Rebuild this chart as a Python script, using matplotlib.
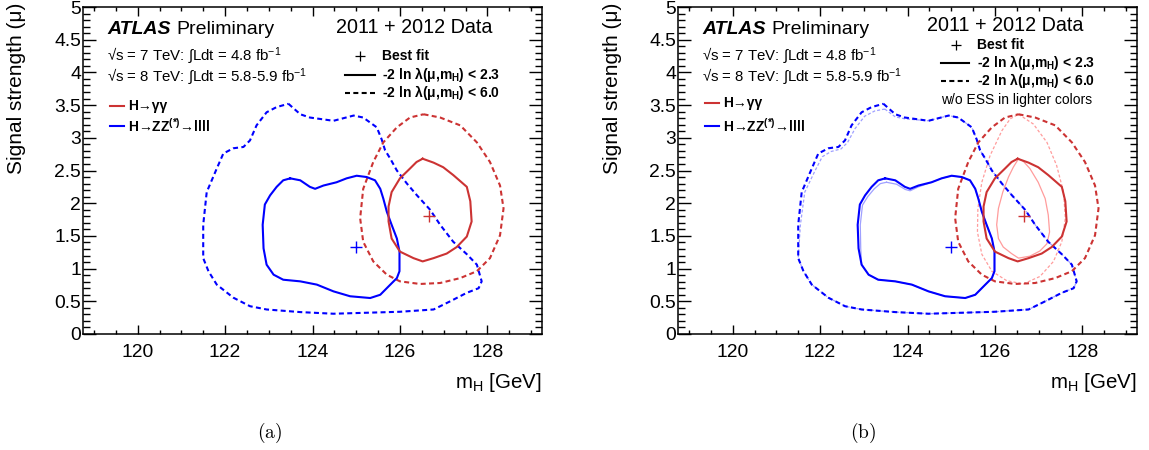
import matplotlib
matplotlib.use('Agg')
import matplotlib.pyplot as plt
from matplotlib.lines import Line2D
from matplotlib.ticker import MultipleLocator, FuncFormatter

plt.rcParams['font.family'] = ['Liberation Sans', 'DejaVu Sans']
plt.rcParams['mathtext.fontset'] = 'custom'
plt.rcParams['mathtext.rm'] = 'Liberation Sans'
plt.rcParams['mathtext.it'] = 'Liberation Sans:italic'
plt.rcParams['mathtext.bf'] = 'Liberation Sans:bold'

# ---------------- data ----------------
zz95_m = [123.45, 123.72, 123.94, 124.48, 124.94, 125.16, 125.47, 125.58, 125.66, 125.78, 125.93, 126.16,
          126.39, 126.69, 126.92, 127.22, 127.53, 127.76, 127.87, 127.80, 127.53, 127.15, 126.77, 126.00,
          125.24, 124.48, 123.72, 122.95, 122.57, 122.19, 121.81, 121.62, 121.50, 121.50, 121.58, 121.81,
          121.96, 122.19, 122.42, 122.57, 122.72, 122.95, 123.18]
zz95_mu = [3.52, 3.36, 3.31, 3.26, 3.34, 3.31, 3.16, 2.98, 2.81, 2.68, 2.50, 2.30,
           2.12, 1.90, 1.67, 1.41, 1.22, 1.06, 0.805, 0.70, 0.63, 0.50, 0.375, 0.34,
           0.325, 0.31, 0.335, 0.375, 0.425, 0.555, 0.755, 0.96, 1.16, 1.67, 2.17, 2.53,
           2.76, 2.84, 2.86, 2.96, 3.19, 3.39, 3.47]

zz68_m = [123.49, 123.72, 123.94, 124.06, 124.25, 124.55, 124.78, 125.01, 125.24, 125.43, 125.55, 125.62,
          125.70, 125.81, 125.93, 125.99, 125.99, 125.93, 125.78, 125.55, 125.32, 124.86, 124.48, 124.10,
          123.72, 123.33, 123.11, 122.95, 122.88, 122.86, 122.91, 123.03, 123.18, 123.33]
zz68_mu = [2.38, 2.35, 2.25, 2.22, 2.27, 2.32, 2.38, 2.42, 2.40, 2.35, 2.22, 2.07,
           1.87, 1.67, 1.46, 1.26, 0.96, 0.855, 0.755, 0.60, 0.55, 0.577, 0.652, 0.755,
           0.805, 0.83, 0.907, 1.06, 1.31, 1.67, 1.98, 2.12, 2.25, 2.35]

gg68_m = [126.52, 126.77, 126.99, 127.22, 127.53, 127.61, 127.64, 127.53, 127.30, 127.07, 126.77,
          126.52, 126.31, 126.00, 125.81, 125.74, 125.74, 125.81, 126.00, 126.23, 126.38]
gg68_mu = [2.68, 2.62, 2.55, 2.43, 2.25, 2.03, 1.72, 1.49, 1.33, 1.23, 1.16,
           1.11, 1.16, 1.26, 1.46, 1.72, 1.95, 2.17, 2.38, 2.53, 2.63]

gg95_m = [126.54, 126.92, 127.38, 127.76, 128.06, 128.29, 128.37, 128.29, 128.06, 127.76, 127.38, 126.92,
          126.46, 126.00, 125.70, 125.39, 125.16, 125.09, 125.16, 125.39, 125.62, 125.93, 126.23]
gg95_mu = [3.36, 3.31, 3.19, 2.93, 2.63, 2.27, 1.92, 1.51, 1.16, 0.96, 0.855, 0.78,
           0.765, 0.805, 0.907, 1.11, 1.41, 1.77, 2.22, 2.63, 2.93, 3.16, 3.31]

# without energy-scale systematics (panel b, lighter colours)
zz95_noess_m = [123.48, 123.72, 123.94, 124.48, 124.94, 125.16, 125.47, 125.58, 125.66, 125.78, 125.93, 126.16,
                126.39, 126.69, 126.92, 127.22, 127.53, 127.76, 127.87, 127.80, 127.53, 127.15, 126.77, 126.00,
                125.24, 124.48, 123.72, 122.95, 122.57, 122.19, 121.81, 121.62, 121.50, 121.55, 121.65, 121.88,
                122.05, 122.25, 122.48, 122.63, 122.80, 123.02, 123.25]
zz95_noess_mu = [3.44, 3.32, 3.29, 3.26, 3.34, 3.31, 3.16, 2.98, 2.81, 2.68, 2.50, 2.30,
                 2.12, 1.90, 1.67, 1.41, 1.22, 1.06, 0.805, 0.70, 0.63, 0.50, 0.375, 0.34,
                 0.325, 0.31, 0.335, 0.375, 0.425, 0.555, 0.755, 0.96, 1.16, 1.67, 2.17, 2.49,
                 2.71, 2.79, 2.83, 2.93, 3.14, 3.33, 3.41]

zz68_noess_m = [123.52, 123.75, 123.95, 124.06, 124.25, 124.55, 124.78, 125.01, 125.24, 125.43, 125.55, 125.62,
                125.70, 125.81, 125.93, 125.99, 125.99, 125.93, 125.78, 125.55, 125.32, 124.86, 124.48, 124.10,
                123.72, 123.33, 123.11, 122.95, 122.93, 122.92, 122.97, 123.09, 123.24, 123.38]
zz68_noess_mu = [2.32, 2.29, 2.21, 2.19, 2.25, 2.32, 2.38, 2.42, 2.40, 2.35, 2.22, 2.07,
                 1.87, 1.67, 1.46, 1.26, 0.96, 0.855, 0.755, 0.60, 0.55, 0.577, 0.652, 0.755,
                 0.805, 0.83, 0.907, 1.06, 1.31, 1.67, 1.97, 2.10, 2.22, 2.30]

gg68_noess_m = [126.54, 126.42, 126.31, 126.18, 126.08, 126.04, 126.08, 126.19, 126.38, 126.54,
                126.80, 127.03, 127.19, 127.25, 127.22, 127.15, 126.99, 126.80, 126.65]
gg68_noess_mu = [2.68, 2.55, 2.40, 2.17, 1.92, 1.67, 1.46, 1.33, 1.23, 1.16,
                 1.19, 1.27, 1.38, 1.56, 1.82, 2.07, 2.32, 2.53, 2.64]

gg95_noess_m = [126.54, 126.88, 127.19, 127.41, 127.57, 127.61, 127.53, 127.34, 127.03, 126.65,
                126.27, 125.93, 125.70, 125.60, 125.61, 125.70, 125.89, 126.16, 126.35]
gg95_noess_mu = [3.36, 3.21, 2.93, 2.58, 2.17, 1.77, 1.41, 1.11, 0.88, 0.765,
                 0.815, 0.96, 1.22, 1.56, 1.92, 2.32, 2.73, 3.11, 3.29]

zz_best = (125.00, 1.33)
gg_best = (126.67, 1.80)

x_range = (118.75, 129.25)
y_range = (0.0, 5.0)

# ---------------- style ----------------
RED = '#cc3333'
BLUE = '#0000ff'
LRED = '#ff9c9c'
LBLUE = '#9fa0ff'
DASH = (2.4, 1.6)

W, H = 1149, 450
fig = plt.figure(figsize=(W / 100, H / 100), dpi=100)


def fx(p):
    return p / W


def fy(p):
    return 1 - p / H


def px_axes(l, t, r, b):
    return fig.add_axes([l / W, 1 - b / H, (r - l) / W, (b - t) / H])


def closed(a):
    return list(a) + [a[0]]


def style(ax):
    ax.set_xlim(*x_range)
    ax.set_ylim(*y_range)
    ax.xaxis.set_major_locator(MultipleLocator(2))
    ax.xaxis.set_minor_locator(MultipleLocator(0.5))
    ax.yaxis.set_major_locator(MultipleLocator(0.5))
    ax.yaxis.set_minor_locator(MultipleLocator(0.1))
    ax.yaxis.set_major_formatter(FuncFormatter(lambda v, p: '%g' % v))
    ax.tick_params(which='both', direction='in', top=True, right=True, width=1.0, labelsize=13.9)
    ax.tick_params(axis='x', which='major', length=6.5, pad=7)
    ax.tick_params(axis='x', which='minor', length=3.2)
    ax.tick_params(axis='y', which='major', length=9.5, pad=1.5)
    ax.tick_params(axis='y', which='minor', length=4.8)
    for s in ax.spines.values():
        s.set_linewidth(1.1)


def contour(ax, m, mu, color, dashed, lw):
    kw = dict(color=color, lw=lw, solid_joinstyle='round')
    line, = ax.plot(closed(m), closed(mu), **kw)
    if dashed:
        line.set_dashes(DASH)


def fline(x0, x1, y, color, dashed=False, lw=1.5):
    ln = Line2D([fx(x0), fx(x1)], [fy(y), fy(y)], transform=fig.transFigure, color=color, lw=lw)
    if dashed:
        ln.set_dashes(DASH)
    fig.add_artist(ln)


def panel(ax, off, right_legend):
    style(ax)
    contour(ax, zz95_m, zz95_mu, BLUE, True, 1.5)
    contour(ax, gg95_m, gg95_mu, RED, True, 1.5)
    contour(ax, zz68_m, zz68_mu, BLUE, False, 1.5)
    contour(ax, gg68_m, gg68_mu, RED, False, 1.5)
    ax.plot([zz_best[0]], [zz_best[1]], marker='+', ms=9, mew=1.0, color=BLUE, ls='none')
    ax.plot([gg_best[0]], [gg_best[1]], marker='+', ms=9, mew=1.0, color=RED, ls='none')

    # header texts
    fig.text(fx(107 + off), fy(34), 'ATLAS', fontsize=14, fontweight='bold', fontstyle='italic',
             va='baseline', ha='left')
    fig.text(fx(176 + off), fy(34), 'Preliminary', fontsize=14, va='baseline', ha='left')
    fig.text(fx(336 + off - (4 if right_legend else 0)), fy(33 if not right_legend else 31),
             '2011 + 2012 Data', fontsize=14.2, va='baseline', ha='left')
    fig.text(fx(107 + off), fy(60), r'√s = 7 TeV: ∫Ldt = 4.8 fb$^{-1}$', fontsize=10.8,
             va='baseline', ha='left')
    fig.text(fx(107 + off), fy(81), r'√s = 8 TeV: ∫Ldt = 5.8-5.9 fb$^{-1}$', fontsize=10.8,
             va='baseline', ha='left')

    # channel legend
    yg = 106 if not right_legend else 103
    yz = 126
    fline(110 + off, 124 + off, yg, RED)
    fline(110 + off, 124 + off, yz, BLUE)
    fig.text(fx(128 + off), fy(yg), 'H→γγ', fontsize=10, fontweight='bold', va='center', ha='left')
    fig.text(fx(128 + off), fy(yz), r'H→ZZ$^{\mathbf{(*)}}$→llll', fontsize=10, fontweight='bold',
             va='center', ha='left')

    # contour legend
    if not right_legend:
        xb, xl0, xl1, xt = 360, 345, 375, 382
        yb, y1, y2 = 56, 75, 93
    else:
        xb, xl0, xl1, xt = 955.7 - 595, 940.7 - 595, 969.3 - 595, 977 - 595
        yb, y1, y2 = 45, 62.5, 81
    mk = Line2D([fx(xb + off)], [fy(yb)], transform=fig.transFigure, marker='+', ms=7, mew=0.9,
                color='black', ls='none')
    fig.add_artist(mk)
    fig.text(fx(xt + off), fy(yb), 'Best fit', fontsize=10, fontweight='bold', va='center', ha='left')
    fline(xl0 + off, xl1 + off, y1, 'black')
    fig.text(fx(xt + off), fy(y1), r'-2 ln λ(μ,m$_{\mathbf{H}}$) < 2.3', fontsize=10, fontweight='bold',
             va='center', ha='left')
    fline(xl0 + off, xl1 + off, y2, 'black', dashed=True)
    fig.text(fx(xt + off), fy(y2), r'-2 ln λ(μ,m$_{\mathbf{H}}$) < 6.0', fontsize=10, fontweight='bold',
             va='center', ha='left')
    if right_legend:
        fig.text(fx(941), fy(100), 'w/o ESS in lighter colors', fontsize=10, va='center', ha='left')

    # axis titles
    fig.text(fx(17 + off), fy(3), 'Signal strength (μ)', fontsize=15, rotation=90, ha='center', va='top')
    fig.text(fx(542 + off), fy(382), r'm$_{\rm H}$ [GeV]', fontsize=14.8, ha='right', va='center')


axA = px_axes(83, 7, 542, 334)
axB = px_axes(678, 7, 1137, 334)

# light contours first (behind)
contour(axB, zz95_noess_m, zz95_noess_mu, LBLUE, True, 0.9)
contour(axB, gg95_noess_m, gg95_noess_mu, LRED, True, 0.9)
contour(axB, zz68_noess_m, zz68_noess_mu, LBLUE, False, 0.9)
contour(axB, gg68_noess_m, gg68_noess_mu, LRED, False, 0.9)

panel(axA, 0, False)
panel(axB, 595, True)

fig.text(fx(270), fy(433), r'$\mathrm{(a)}$', fontsize=14, ha='center', va='center', math_fontfamily='cm')
fig.text(fx(863), fy(433), r'$\mathrm{(b)}$', fontsize=14, ha='center', va='center', math_fontfamily='cm')

fig.savefig('out.png', dpi=100)
